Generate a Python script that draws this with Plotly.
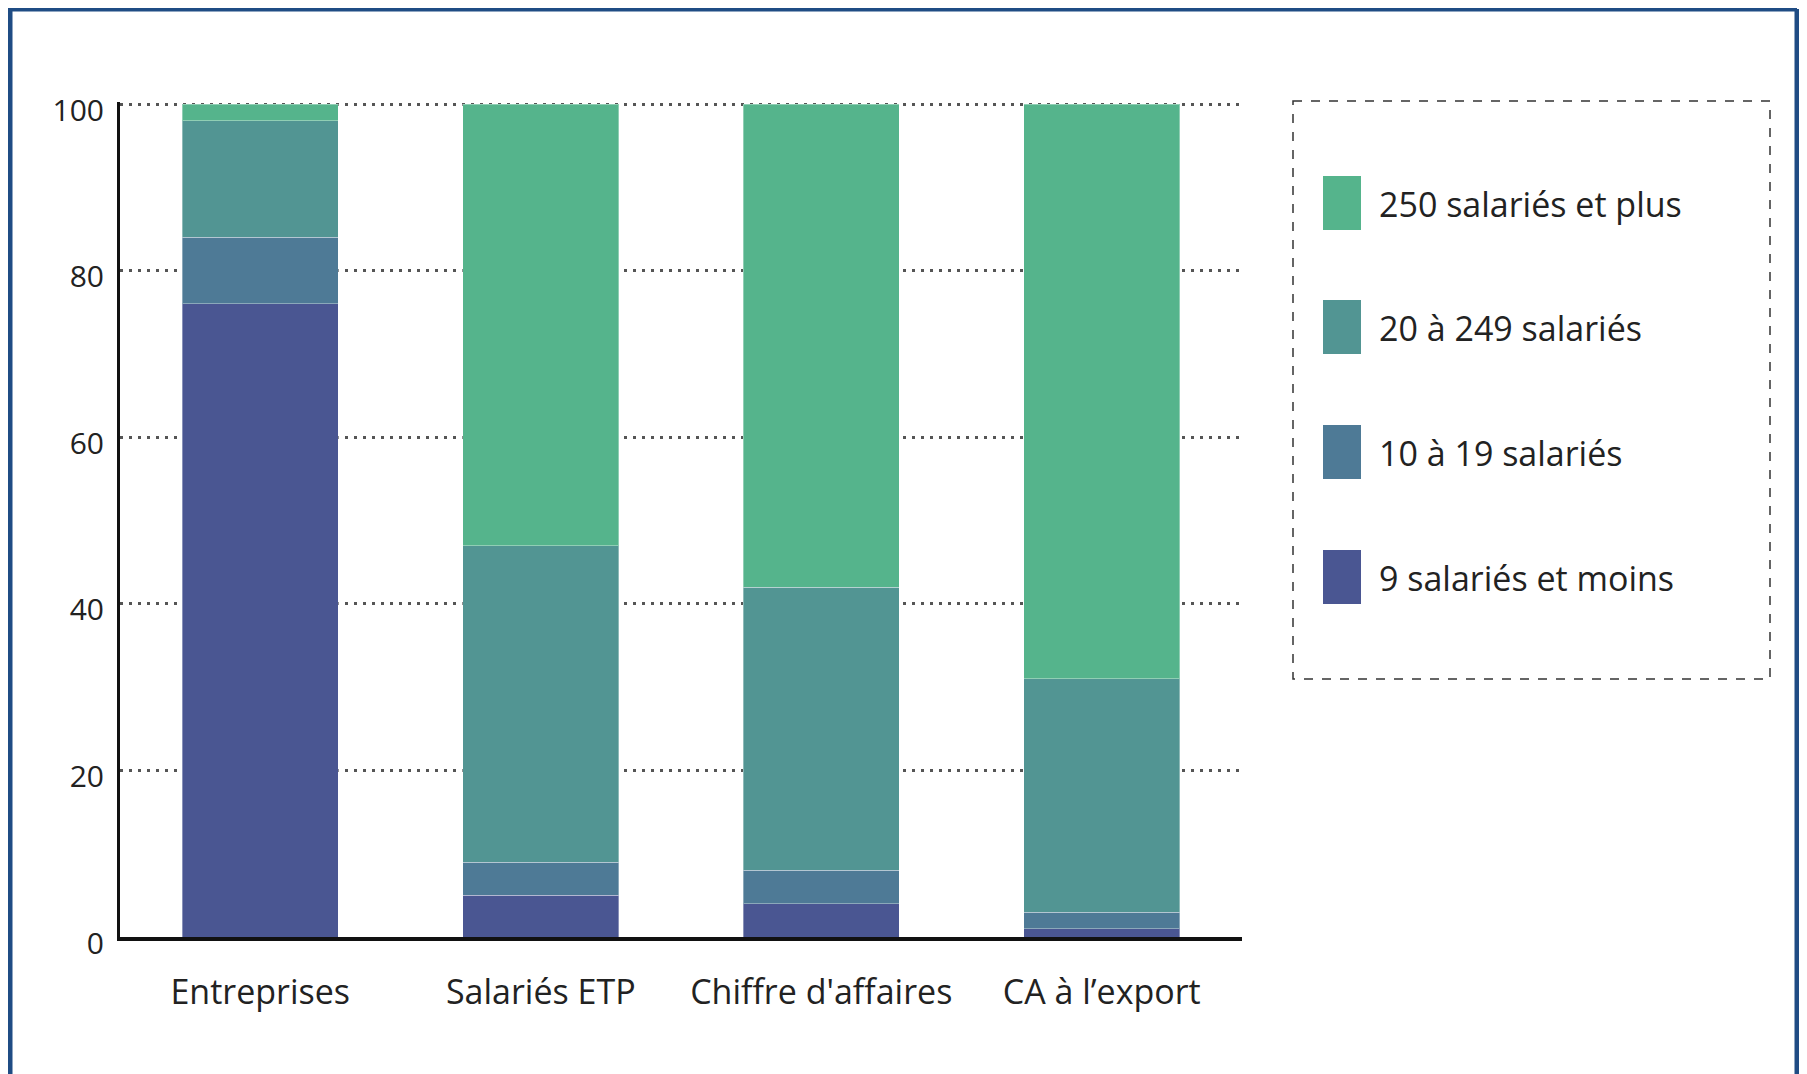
import plotly.graph_objects as go

categories = ["Entreprises", "Salariés ETP", "Chiffre d'affaires", "CA à l’export"]
series_names = ["9 salariés et moins", "10 à 19 salariés", "20 à 249 salariés", "250 salariés et plus"]
s_9_moins = [76, 5, 4, 1]
s_10_19 = [8, 4, 4, 2]
s_20_249 = [14, 38, 34, 28]
s_250_plus = [2, 53, 58, 69]
colors = ["#4a5692", "#4e7a96", "#529593", "#55b48c"]
y_ticks = [0, 20, 40, 60, 80, 100]

OFF = 8  # page body margin
W, H = 1799, 1066
# plot area in screen pixels
SX0, SX1, SY0, SY1 = 120, 1242, 102, 937
L, R, T, B = SX0 - OFF, W - (SX1 - OFF), SY0 - OFF, H - (SY1 - OFF)
PW, PH = W - L - R, H - T - B

def px(x):
    return (x - OFF - L) / PW

def py(y):
    return (H - B - (y - OFF)) / PH

FONT = "Open Sans"
TXT = "#222222"

fig = go.Figure()
for name, vals, col in zip(series_names, [s_9_moins, s_10_19, s_20_249, s_250_plus], colors):
    fig.add_trace(go.Bar(
        x=categories, y=vals, name=name,
        marker=dict(color=col, line=dict(color="rgba(255,255,255,0.35)", width=1)),
        showlegend=False, hoverinfo="x+y+name"))

shapes = []
# outer frame (left, top, right)
frame_col = "#1f4c84"
for (x0, y0, x1, y1) in [(10, 9, 10, H + 30), (8, 9, 1797, 9), (1797, 9, 1797, H + 30)]:
    shapes.append(dict(type="line", xref="paper", yref="paper", x0=px(x0), y0=py(y0), x1=px(x1), y1=py(y1),
                       line=dict(color=frame_col, width=5)))
# legend box
shapes.append(dict(type="rect", xref="paper", yref="paper", x0=px(1293), y0=py(101), x1=px(1770), y1=py(679),
                   line=dict(color="#333333", width=1.5, dash="dash")))
annotations = []
leg_centers = [203, 327, 452, 577]
for i, (name, col) in enumerate(zip(series_names[::-1], colors[::-1])):
    cy = leg_centers[i]
    shapes.append(dict(type="rect", xref="paper", yref="paper", x0=px(1323), x1=px(1361),
                       y0=py(cy - 27), y1=py(cy + 27), line=dict(width=0), fillcolor=col))
    annotations.append(dict(xref="paper", yref="paper", x=px(1377), y=py(cy + 1), text=name, showarrow=False,
                            xanchor="left", yanchor="middle", font=dict(family=FONT, size=34, color=TXT)))

fig.update_layout(
    width=W, height=H, margin=dict(l=L, r=R, t=T, b=B),
    paper_bgcolor="white", plot_bgcolor="white",
    barmode="stack", bargap=0.444,
    shapes=shapes, annotations=annotations,
    font=dict(family=FONT, color=TXT),
)
fig.update_xaxes(type="category", showline=True, linecolor="#111111", linewidth=4, showgrid=False,
                 ticks="", tickfont=dict(family=FONT, size=34, color=TXT), ticklabelstandoff=22)
fig.update_yaxes(range=[0, 100.25], tickvals=y_ticks, showline=True, linecolor="#111111", linewidth=3,
                 showgrid=True, gridcolor="#555555", gridwidth=2.5, griddash="3px,6px", zeroline=False,
                 ticks="", tickfont=dict(family=FONT, size=30, color=TXT), ticklabelstandoff=7,
                 ticklabelshift=6)

fig.write_html("out.html")
